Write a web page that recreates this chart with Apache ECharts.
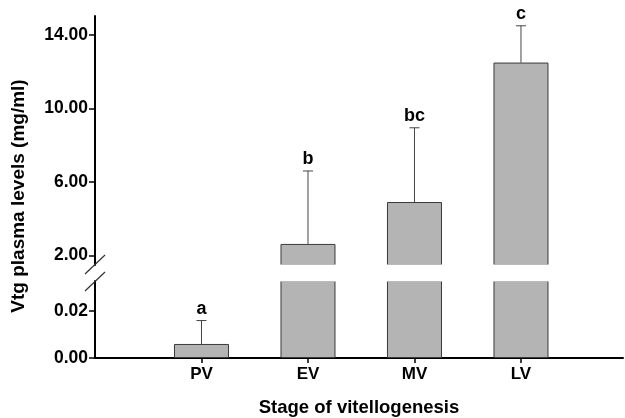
<!DOCTYPE html>
<html><head><meta charset="utf-8">
<script src="https://cdn.jsdelivr.net/npm/echarts@6/dist/echarts.min.js"></script>
<style>html,body{margin:0;padding:0;background:#fff}#c{width:625px;height:418px}</style>
</head><body><div id="c"></div>
<script>
const categories = ['PV', 'EV', 'MV', 'LV'];
const means = [0.006, 2.63, 4.91, 12.5];
const errTop = [0.016, 6.6, 8.95, 14.5];
const letters = ['a', 'b', 'bc', 'c'];
const upperTicks = [2, 6, 10, 14];
const lowerTicks = [0, 0.02];

const LOWER_MAX = 0.0329, UPPER_MIN = 1.483, UPPER_MAX = 15.034;
const FONT = 'Liberation Sans, Arial, sans-serif';

const xs = categories.map((c, i) => i + 1);
const lowerBars = means.map((v, i) => [xs[i], v]);
const upperBars = means.map((v, i) => [xs[i], v]).filter(d => d[1] > UPPER_MIN);
const errData = means.map((v, i) => [xs[i], v, errTop[i], i]);
const lowerErr = errData.filter(d => d[2] <= LOWER_MAX);
const upperErr = errData.filter(d => d[2] > LOWER_MAX);

function renderErr(params, api) {
  const x = api.value(0), m = api.value(1), t = api.value(2), idx = api.value(3);
  const p0 = api.coord([x, m]);
  const p1 = api.coord([x, t]);
  const cap = 5;
  return {
    type: 'group',
    children: [
      {type: 'line', shape: {x1: p0[0], y1: p0[1], x2: p1[0], y2: p1[1]}, style: {stroke: '#444', lineWidth: 1}},
      {type: 'line', shape: {x1: p1[0] - cap, y1: p1[1], x2: p1[0] + cap, y2: p1[1]}, style: {stroke: '#444', lineWidth: 1}},
      {type: 'text', x: p1[0], y: p1[1] - 3, style: {text: letters[idx], fill: '#000', font: 'bold 18px ' + FONT, align: 'center', verticalAlign: 'bottom'}}
    ]
  };
}

const chart = echarts.init(document.getElementById('c'));
const xCommon = {
  type: 'value', min: 0, max: 4.958,
  splitLine: {show: false}
};
chart.setOption({
  animation: false,
  grid: [
    {left: 95, width: 528, top: 16, height: 249},
    {left: 95, width: 528, top: 281, height: 79}
  ],
  xAxis: [
    Object.assign({}, xCommon, {gridIndex: 0, show: false}),
    Object.assign({}, xCommon, {
      gridIndex: 1,
      axisLine: {show: true, lineStyle: {color: '#000', width: 2}},
      axisTick: {show: true, length: 5, customValues: xs, lineStyle: {color: '#000', width: 1.5}},
      axisLabel: {show: true, customValues: xs, formatter: v => categories[Math.round(v) - 1] || '',
        color: '#000', fontFamily: FONT, fontWeight: 'bold', fontSize: 17, margin: 8},
      name: 'Stage of vitellogenesis', nameLocation: 'middle', nameGap: 40,
      nameTextStyle: {color: '#000', fontFamily: FONT, fontWeight: 'bold', fontSize: 18.5, padding: [0, 0, 0, 0]}
    })
  ],
  yAxis: [
    {
      gridIndex: 0, type: 'value', min: UPPER_MIN, max: UPPER_MAX,
      splitLine: {show: false},
      axisLine: {show: true, lineStyle: {color: '#000', width: 2}},
      axisTick: {show: true, length: 6, customValues: upperTicks, lineStyle: {color: '#000', width: 1.5}},
      axisLabel: {customValues: upperTicks, formatter: v => v.toFixed(2), color: '#000', fontFamily: FONT, fontWeight: 'bold', fontSize: 17.5, margin: 7}
    },
    {
      gridIndex: 1, type: 'value', min: 0, max: LOWER_MAX,
      splitLine: {show: false},
      axisLine: {show: true, lineStyle: {color: '#000', width: 2}},
      axisTick: {show: true, length: 6, customValues: lowerTicks, lineStyle: {color: '#000', width: 1.5}},
      axisLabel: {customValues: lowerTicks, formatter: v => v.toFixed(2), color: '#000', fontFamily: FONT, fontWeight: 'bold', fontSize: 17.5, margin: 7}
    }
  ],
  series: [
    {type: 'bar', xAxisIndex: 0, yAxisIndex: 0, data: upperBars, barWidth: 55, clip: true,
      itemStyle: {color: '#b4b4b4', borderColor: '#3a3a3a', borderWidth: 1}},
    {type: 'bar', xAxisIndex: 1, yAxisIndex: 1, data: lowerBars, barWidth: 55, clip: true,
      itemStyle: {color: '#b4b4b4', borderColor: '#3a3a3a', borderWidth: 1}},
    {type: 'custom', xAxisIndex: 0, yAxisIndex: 0, data: upperErr, renderItem: renderErr, clip: false, z: 5},
    {type: 'custom', xAxisIndex: 1, yAxisIndex: 1, data: lowerErr, renderItem: renderErr, clip: false, z: 5}
  ],
  graphic: [
    {type: 'rect', shape: {x: 96, y: 264.5, width: 527, height: 17}, style: {fill: '#fff'}, z: 100},
    {type: 'line', shape: {x1: 85, y1: 274, x2: 105, y2: 255}, style: {stroke: '#333', lineWidth: 1.2}, z: 101},
    {type: 'line', shape: {x1: 85, y1: 291, x2: 105, y2: 272}, style: {stroke: '#333', lineWidth: 1.2}, z: 101},
    {type: 'text', x: 19, y: 196, rotation: Math.PI / 2, style: {text: 'Vtg plasma levels (mg/ml)', fill: '#000', font: 'bold 19px ' + FONT, align: 'center', verticalAlign: 'middle'}}
  ]
});
</script></body></html>
